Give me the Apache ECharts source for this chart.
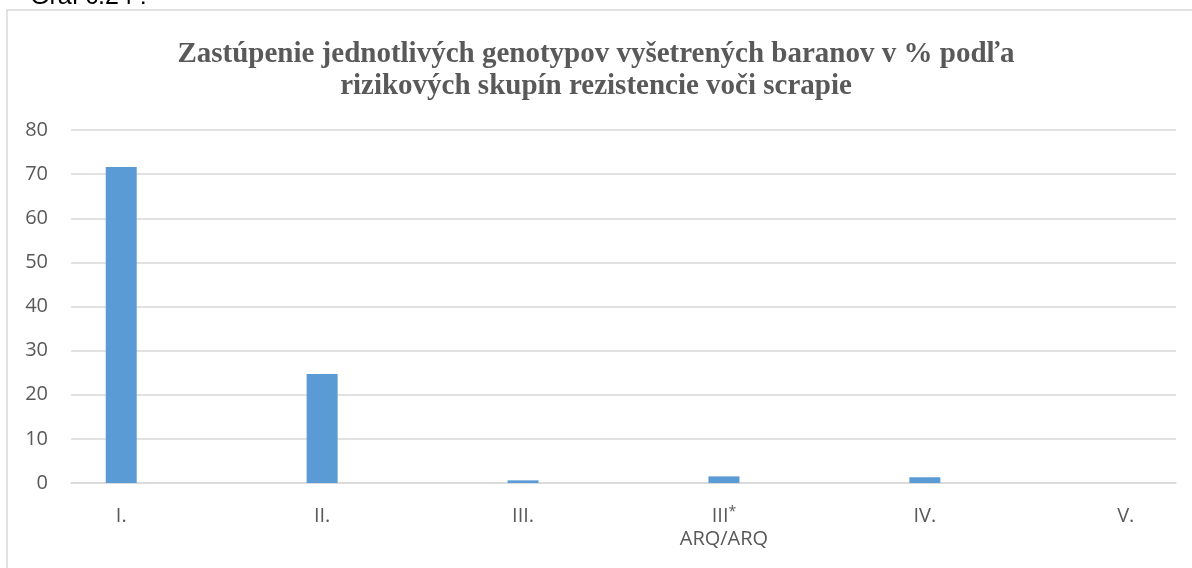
<!DOCTYPE html>
<html>
<head>
<meta charset="utf-8">
<script src="https://cdn.jsdelivr.net/npm/echarts@6/dist/echarts.min.js"></script>
<style>
html, body { margin: 0; padding: 0; background: #fff; }
#chart { width: 1192px; height: 568px; }
</style>
</head>
<body>
<div id="chart"></div>
<script>
// categories (empty slots keep the same spacing as the original sheet)
var categories = ['I.', '', 'II.', '', 'III.', '', 'III*\nARQ/ARQ', '', 'IV.', '', 'V.'];
var values = [71.6, null, 24.7, null, 0.6, null, 1.5, null, 1.3, null, 0];
var yTicks = { min: 0, max: 80, interval: 10 };

var titleText = 'Zastúpenie jednotlivých genotypov vyšetrených baranov v % podľa\nrizikových skupín rezistencie voči scrapie';

var chart = echarts.init(document.getElementById('chart'));

function catLabel(v) {
    // put the asterisk up as in the original
    return v.replace('*', '{s|*}');
}

chart.setOption({
    animation: false,
    backgroundColor: '#fff',
    title: {
        text: titleText,
        left: 'center',
        top: 34,
        textStyle: {
            fontFamily: 'Liberation Serif',
            fontWeight: 'bold',
            fontSize: 29,
            lineHeight: 32,
            color: '#595959'
        }
    },
    graphic: [
        {
            type: 'rect',
            shape: { x: 7, y: 10, width: 1220, height: 600 },
            style: { fill: 'none', stroke: '#d9d9d9', lineWidth: 1.5 },
            silent: true
        },
        {
            type: 'text',
            left: 30,
            top: -15,
            style: {
                text: 'Graf č.24 :',
                font: '25px "Liberation Sans"',
                fill: '#000'
            }
        }
    ],
    grid: { left: 71, right: 16, top: 130, bottom: 85 },
    xAxis: {
        type: 'category',
        data: categories,
        axisTick: { show: false },
        axisLine: { lineStyle: { color: '#d9d9d9', width: 1.5 } },
        axisLabel: {
            interval: 0,
            margin: 22,
            fontFamily: 'Open Sans',
            fontSize: 20,
            lineHeight: 23,
            color: '#595959',
            formatter: catLabel,
            rich: {
                s: { fontFamily: 'Open Sans', fontSize: 14, color: '#595959', verticalAlign: 'top', padding: [0, 0, 8, 0] }
            }
        }
    },
    yAxis: {
        type: 'value',
        min: yTicks.min,
        max: yTicks.max,
        interval: yTicks.interval,
        axisLine: { show: false },
        axisTick: { show: false },
        splitLine: { lineStyle: { color: '#d9d9d9', width: 1.5 } },
        axisLabel: {
            margin: 23,
            fontFamily: 'Open Sans',
            fontSize: 20,
            color: '#595959'
        }
    },
    series: [{
        type: 'bar',
        data: values,
        barWidth: 31,
        itemStyle: { color: '#5b9bd5' }
    }]
});
</script>
</body>
</html>
